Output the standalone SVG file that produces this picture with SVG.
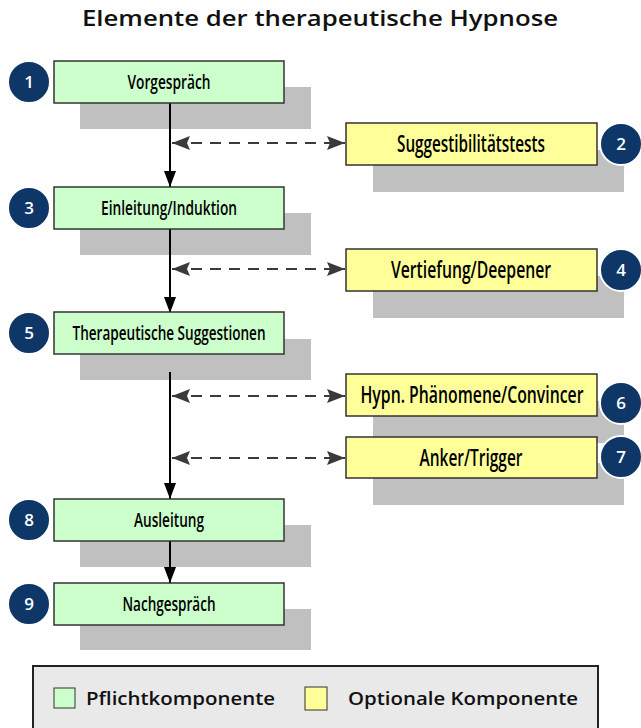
<svg xmlns="http://www.w3.org/2000/svg" width="641" height="728" viewBox="0 0 641 728">
<defs>
<marker id="ah" viewBox="0 0 16 12" refX="16" refY="6" markerWidth="16" markerHeight="12" markerUnits="userSpaceOnUse" orient="auto">
<path d="M0,0 L16,6 L0,12 Z" fill="#000"/>
</marker>
<marker id="dh" viewBox="0 0 18 14" refX="18" refY="7" markerWidth="18" markerHeight="14" markerUnits="userSpaceOnUse" orient="auto-start-reverse">
<path d="M0,0 L18,7 L0,14 L3,7 Z" fill="#3a3a3a"/>
</marker>
<style>
.sh{fill:#c0c0c0}
.req{fill:#ccffcc;stroke:#333;stroke-width:1.5}
.opt{fill:#ffff99;stroke:#333;stroke-width:1.5}
.num{fill:#0e3767;stroke:#fff;stroke-width:2}
.numt{font-family:"Open Sans","DejaVu Sans",sans-serif;font-weight:600;font-size:17px;fill:#fff;text-anchor:middle}
.lbl{font-family:"Open Sans","Liberation Sans",sans-serif;font-weight:600;font-size:19px;fill:#000;text-anchor:middle}
.lbo{font-family:"Open Sans","Liberation Sans",sans-serif;font-weight:600;font-size:23px;fill:#000;text-anchor:middle}
.flow{stroke:#000;stroke-width:2;fill:none;marker-end:url(#ah)}
.dash{stroke:#3a3a3a;stroke-width:2;fill:none;stroke-dasharray:11,8;marker-start:url(#dh);marker-end:url(#dh)}
.leg{font-family:"Open Sans","Liberation Sans",sans-serif;font-weight:600;font-size:18px;fill:#111}
</style>
</defs>
<rect width="641" height="728" fill="#fff"/>
<text x="320" y="26" text-anchor="middle" font-family="'Open Sans','Liberation Sans',sans-serif" font-weight="600" font-size="22" fill="#111" textLength="476" lengthAdjust="spacingAndGlyphs">Elemente der therapeutische Hypnose</text>

<g id="shadows">
<rect class="sh" x="80" y="87" width="231" height="42"/>
<rect class="sh" x="80" y="213" width="231" height="42"/>
<rect class="sh" x="80" y="339" width="231" height="41"/>
<rect class="sh" x="80" y="525" width="231" height="42"/>
<rect class="sh" x="80" y="609" width="231" height="41"/>
<rect class="sh" x="373" y="150" width="251" height="42"/>
<rect class="sh" x="373" y="276" width="251" height="42"/>
<rect class="sh" x="373" y="401" width="251" height="42"/>
<rect class="sh" x="373" y="463" width="251" height="42"/>
</g>

<g id="connectors">
<path class="flow" d="M170,103 V187"/>
<path class="flow" d="M170,229 V313"/>
<path class="flow" d="M170,372 V499"/>
<path class="flow" d="M170,541 V583"/>
<path class="dash" d="M172,143 H345"/>
<path class="dash" d="M172,269 H345"/>
<path class="dash" d="M172,396 H345"/>
<path class="dash" d="M172,458 H345"/>
</g>

<g id="n1">
<rect class="req" x="54" y="61" width="230" height="42"/>
<text class="lbl" transform="translate(169,89) scale(0.7,1)" textLength="118.6" lengthAdjust="spacingAndGlyphs">Vorgespräch</text>
<circle class="num" cx="29" cy="82" r="21"/><text class="numt" x="29" y="88">1</text>
</g>
<g id="n2">
<rect class="opt" x="346" y="123" width="251" height="42"/>
<text class="lbo" transform="translate(471,152) scale(0.7,1)" textLength="211.4" lengthAdjust="spacingAndGlyphs">Suggestibilitätstests</text>
<circle class="num" cx="621" cy="144" r="21"/><text class="numt" x="621" y="150">2</text>
</g>
<g id="n3">
<rect class="req" x="54" y="187" width="230" height="42"/>
<text class="lbl" transform="translate(169,215) scale(0.7,1)" textLength="194.3" lengthAdjust="spacingAndGlyphs">Einleitung/Induktion</text>
<circle class="num" cx="29" cy="208" r="21"/><text class="numt" x="29" y="214">3</text>
</g>
<g id="n4">
<rect class="opt" x="346" y="249" width="251" height="42"/>
<text class="lbo" transform="translate(471,278) scale(0.7,1)" textLength="228.6" lengthAdjust="spacingAndGlyphs">Vertiefung/Deepener</text>
<circle class="num" cx="621" cy="270" r="21"/><text class="numt" x="621" y="276">4</text>
</g>
<g id="n5">
<rect class="req" x="54" y="312" width="230" height="42"/>
<text class="lbl" transform="translate(169,340) scale(0.7,1)" textLength="275.7" lengthAdjust="spacingAndGlyphs">Therapeutische Suggestionen</text>
<circle class="num" cx="29" cy="333" r="21"/><text class="numt" x="29" y="339">5</text>
</g>
<g id="n6">
<rect class="opt" x="346" y="374" width="251" height="42"/>
<text class="lbo" transform="translate(472,403) scale(0.7,1)" textLength="318.6" lengthAdjust="spacingAndGlyphs">Hypn. Phänomene/Convincer</text>
<circle class="num" cx="621" cy="403" r="21"/><text class="numt" x="621" y="409">6</text>
</g>
<g id="n7">
<rect class="opt" x="346" y="437" width="251" height="41"/>
<text class="lbo" transform="translate(471,466) scale(0.7,1)" textLength="147.1" lengthAdjust="spacingAndGlyphs">Anker/Trigger</text>
<circle class="num" cx="621" cy="457" r="21"/><text class="numt" x="621" y="463">7</text>
</g>
<g id="n8">
<rect class="req" x="54" y="499" width="230" height="42"/>
<text class="lbl" transform="translate(169,527) scale(0.7,1)" textLength="100" lengthAdjust="spacingAndGlyphs">Ausleitung</text>
<circle class="num" cx="29" cy="520" r="21"/><text class="numt" x="29" y="526">8</text>
</g>
<g id="n9">
<rect class="req" x="54" y="583" width="230" height="42"/>
<text class="lbl" transform="translate(169,611) scale(0.7,1)" textLength="132.9" lengthAdjust="spacingAndGlyphs">Nachgespräch</text>
<circle class="num" cx="29" cy="604" r="21"/><text class="numt" x="29" y="610">9</text>
</g>

<g id="legend">
<rect x="33" y="666" width="565" height="70" fill="#e9e9e9" stroke="#222" stroke-width="2"/>
<rect x="54" y="688" width="21" height="20" fill="#ccffcc" stroke="#333" stroke-width="1"/>
<text class="leg" x="86" y="705" textLength="189" lengthAdjust="spacingAndGlyphs">Pflichtkomponente</text>
<rect x="305" y="687" width="22" height="23" fill="#ffff99" stroke="#333" stroke-width="1"/>
<text class="leg" x="348" y="705" textLength="230" lengthAdjust="spacingAndGlyphs">Optionale Komponente</text>
</g>
</svg>
